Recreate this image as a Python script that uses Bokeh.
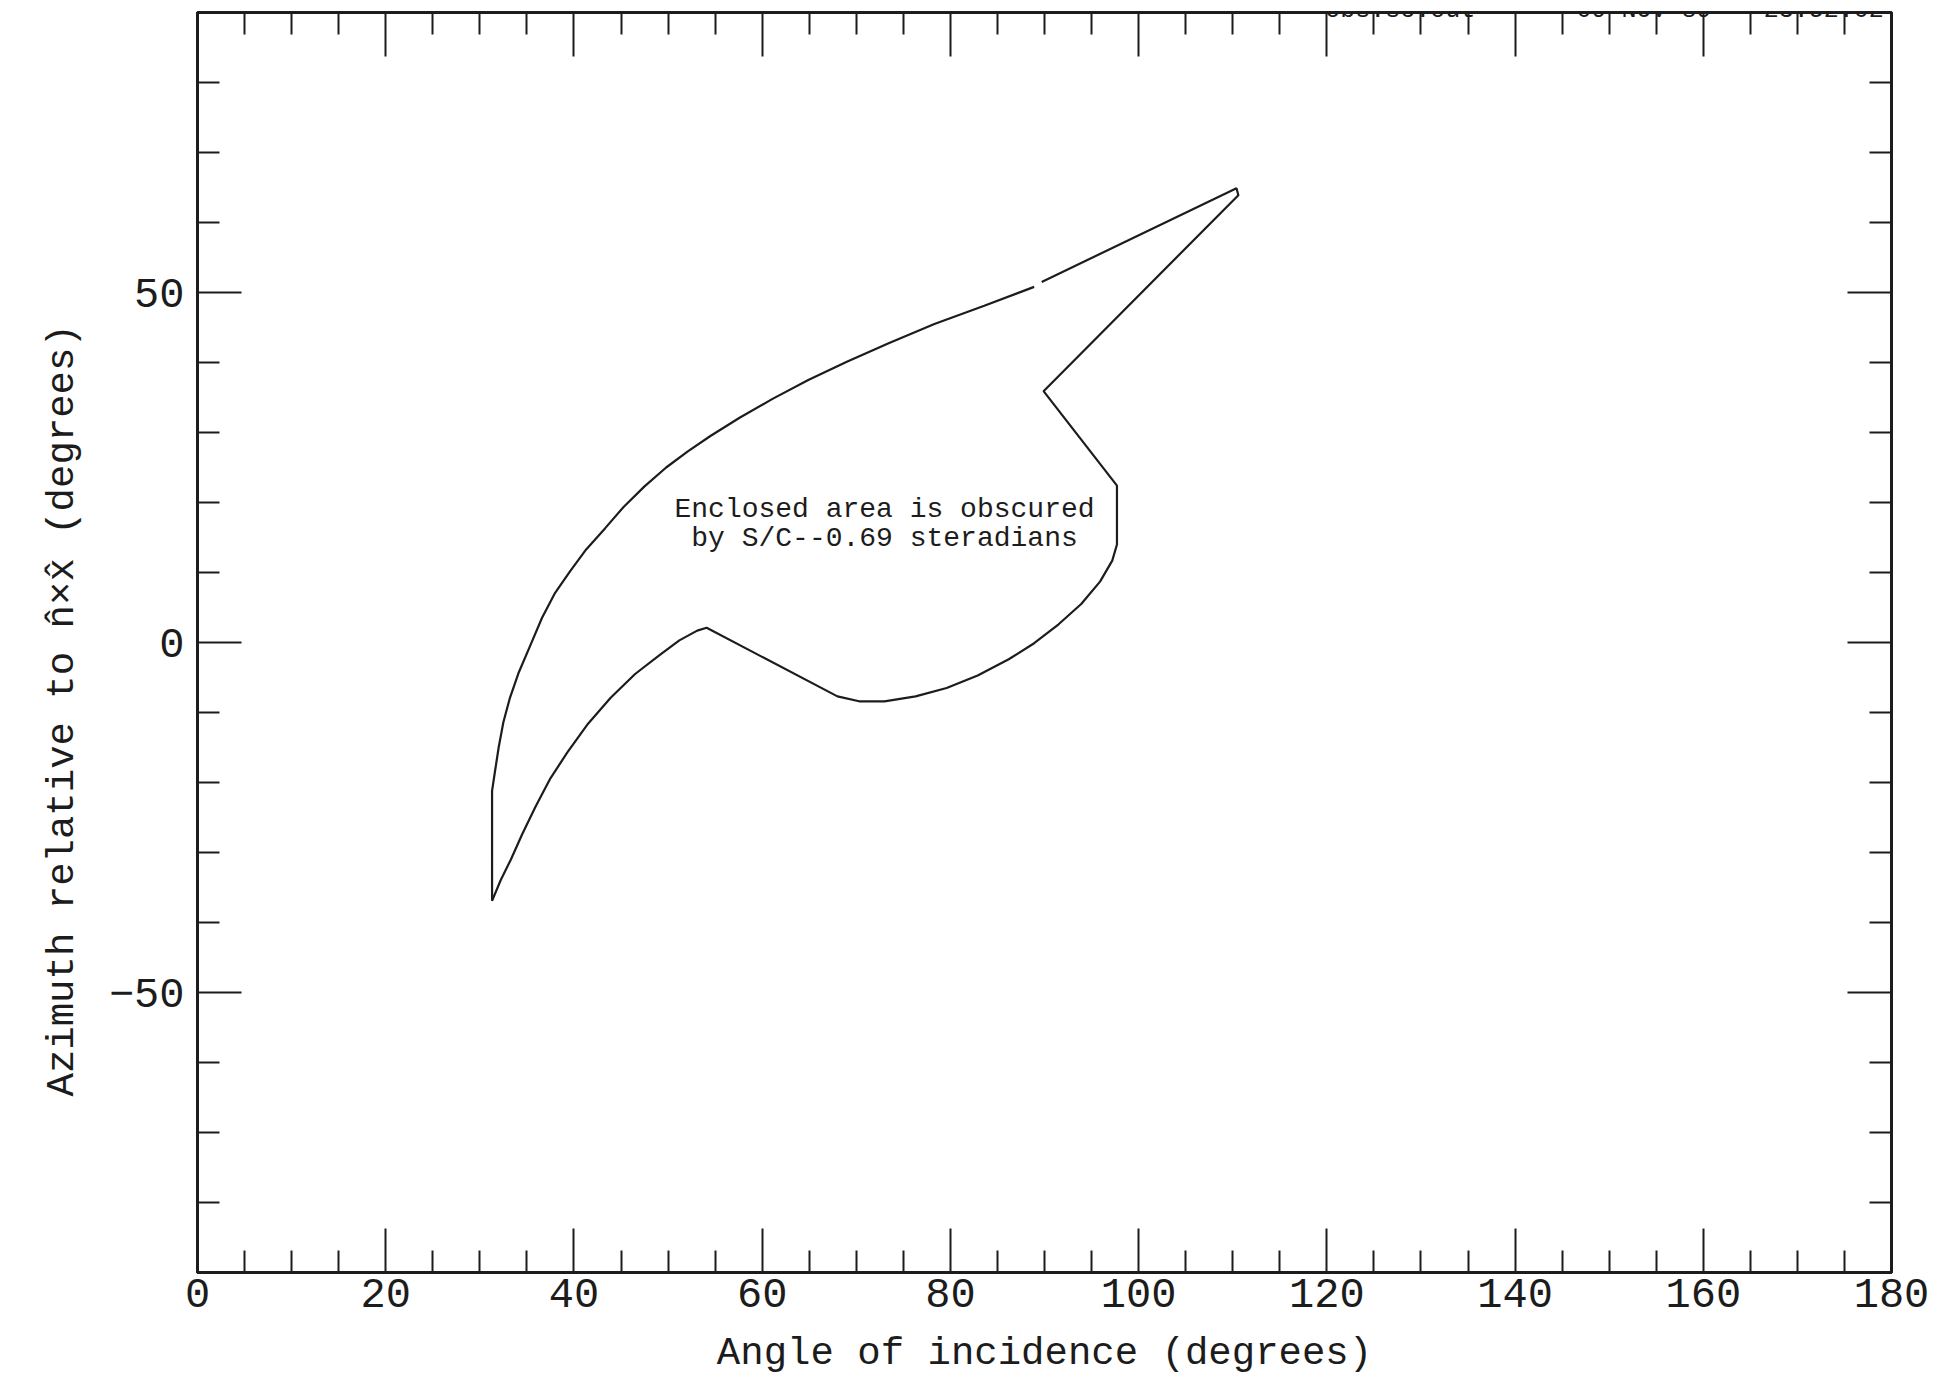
from bokeh.plotting import figure
from bokeh.models import Range1d, LinearAxis, FixedTicker, Label, Title
from bokeh.core.properties import value
from bokeh.embed import file_html
from bokeh.resources import INLINE

# Boundary of the region hidden by the spacecraft, traced once around,
# starting just past the small break in its upper edge.
incidence_deg = [89.7, 110.4, 110.6, 89.9, 97.7, 97.7, 97.2, 95.9, 93.9, 91.5,
                 88.9, 86.2, 82.9, 79.6, 76.3, 73.0, 70.3, 68.0, 54.1, 53.1,
                 51.2, 49.2, 46.5, 43.9, 41.5, 39.3, 37.5, 35.9, 34.5, 33.3,
                 32.2, 31.3, 31.3, 31.6, 32.0, 32.5, 33.2, 34.1, 35.4, 36.6,
                 38.0, 39.6, 41.3, 43.3, 45.3, 47.5, 49.8, 52.1, 54.5, 57.6,
                 61.1, 64.9, 69.0, 73.5, 78.3, 83.6, 88.9]
azimuth_deg = [51.5, 64.9, 63.9, 35.9, 22.4, 14.0, 11.7, 8.7, 5.5, 2.6,
               -0.1, -2.4, -4.7, -6.5, -7.7, -8.4, -8.4, -7.7, 2.1, 1.7,
               0.3, -1.7, -4.5, -7.9, -11.6, -15.7, -19.4, -23.5, -27.4, -31.0,
               -34.0, -36.9, -21.2, -18.5, -15.0, -11.4, -7.9, -4.4, -0.3, 3.5,
               7.1, 10.2, 13.3, 16.3, 19.4, 22.3, 25.0, 27.3, 29.5, 32.1,
               34.8, 37.5, 40.1, 42.8, 45.5, 48.1, 50.8]

# Axis ticks
x_major = [0, 20, 40, 60, 80, 100, 120, 140, 160, 180]
x_minor = [v for v in range(5, 180, 5) if v % 20]
y_major = [-50, 0, 50]
y_minor = [v for v in range(-80, 90, 10) if v % 50]
y_labels = {-50: "\u221250", 0: "0", 50: "50"}

x_title = "Angle of incidence (degrees)"
y_title = "Azimuth relative to n\u0302\u00d7x\u0302 (degrees)"
note_lines = ["Enclosed area is obscured", "by S/C--0.69 steradians"]
header = ["obs:sc:out", "09-NOV-89", "23:52:02"]

INK = "#1c1c1c"
FONT = "Liberation Mono"

p = figure(width=1952, height=1384, output_backend="svg", toolbar_location=None,
           x_range=Range1d(0, 180), y_range=Range1d(-90, 90),
           x_axis_type=None, y_axis_type=None)
p.min_border_left = 197
p.min_border_right = 61
p.min_border_top = 12
p.min_border_bottom = 112
p.background_fill_color = "white"
p.border_fill_color = "white"
p.outline_line_color = INK
p.outline_line_width = 3


def style_axis(ax, show_labels):
    ax.axis_line_color = INK
    ax.axis_line_width = 3
    ax.major_tick_in = 44
    ax.major_tick_out = 0
    ax.minor_tick_in = 22
    ax.minor_tick_out = 0
    ax.major_tick_line_color = INK
    ax.minor_tick_line_color = INK
    ax.major_tick_line_width = 2
    ax.minor_tick_line_width = 2
    ax.major_label_text_font = FONT
    if show_labels:
        ax.major_label_text_color = INK
        ax.major_label_text_font_size = "42px"
    else:
        # tick marks only on the opposite edges
        ax.major_label_text_color = None
        ax.major_label_text_font_size = "1px"
        ax.major_label_standoff = 0


xb = LinearAxis(ticker=FixedTicker(ticks=x_major, minor_ticks=x_minor))
style_axis(xb, True)
xb.major_label_standoff = 6
xb.axis_label = x_title
xb.axis_label_text_font = FONT
xb.axis_label_text_font_size = "39px"
xb.axis_label_text_font_style = "normal"
xb.axis_label_text_color = INK
xb.axis_label_standoff = 22
p.add_layout(xb, "below")

xt = LinearAxis(ticker=FixedTicker(ticks=x_major, minor_ticks=x_minor))
style_axis(xt, False)
p.add_layout(xt, "above")

yl = LinearAxis(ticker=FixedTicker(ticks=y_major, minor_ticks=y_minor))
style_axis(yl, True)
yl.major_label_standoff = 13
yl.major_label_overrides = y_labels
p.add_layout(yl, "left")

yr = LinearAxis(ticker=FixedTicker(ticks=y_major, minor_ticks=y_minor))
style_axis(yr, False)
p.add_layout(yr, "right")

# vertical axis title, set a little below the middle of the frame
p.add_layout(Title(text=y_title, align="left", vertical_align="bottom",
                   offset=176, standoff=42, text_font=FONT,
                   text_font_size="39px", text_font_style="normal",
                   text_color=INK), "left")

# the outline of the obscured region
p.line(incidence_deg, azimuth_deg, line_color=INK, line_width=2.2)

# centred note inside the region
p.text(x=[73.0, 73.0], y=[19.0, 14.9], text=note_lines,
       text_font=value(FONT), text_font_size="28px", text_color=INK,
       text_align="center", text_baseline="middle")

# run stamp along the top edge
for txt, hx in zip(header, [127.8, 153.7, 172.8]):
    p.add_layout(Label(x=hx, y=90.3, text=txt, text_font=FONT,
                       text_font_size="25px", text_color=INK,
                       text_align="center", text_baseline="alphabetic"))

open("out.html", "w").write(file_html(p, INLINE))
